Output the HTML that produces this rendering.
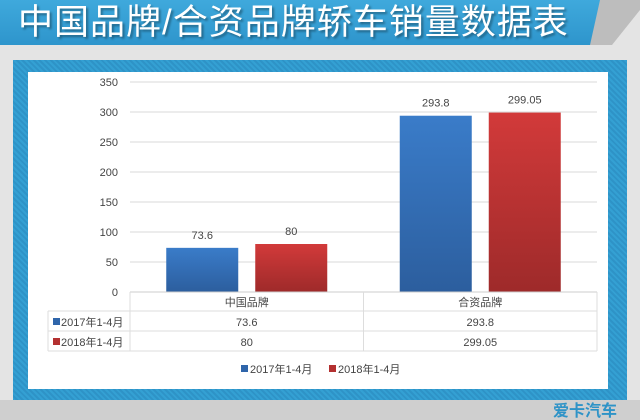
<!DOCTYPE html>
<html><head><meta charset="utf-8"><style>
body{margin:0;width:640px;height:420px;overflow:hidden;background:#e4e4e4;font-family:"Liberation Sans","Noto Sans CJK SC",sans-serif;position:relative}
.banner{position:absolute;left:0;top:0;width:600px;height:45px;background:linear-gradient(#3fa9dc,#2e95cc);}
.title{position:absolute;left:18px;top:-6px;font-size:35px;color:#fff;white-space:nowrap;text-shadow:2px 2px 2px rgba(0,0,0,.35);letter-spacing:1px}
.panel{position:absolute;left:13px;top:60px;width:614px;height:340px;background:repeating-linear-gradient(45deg,#34a0d3 0 2px,#2e93c7 2px 4px)}
.inner{position:absolute;left:28px;top:72px;width:580px;height:317px;background:#fff}
.bottom{position:absolute;left:0;top:400px;width:640px;height:20px;background:#cfcfcf}
svg{position:absolute;left:0;top:0}
text{font-family:"Liberation Sans","Noto Sans CJK SC",sans-serif;fill:#444}
</style></head><body>
<div class="banner"></div>
<div class="title">中国品牌/合资品牌轿车销量数据表</div>
<div class="panel"></div>
<div class="inner"></div>
<div class="bottom"></div>
<svg width="640" height="420" id="chart">
<polygon points="600,0 640,0 640,10 612,45 590,45" fill="#bdbdbd"/>
</svg>
<script>
const categories=["中国品牌","合资品牌"];
const series2017=[73.6,293.8];
const series2018=[80,299.05];
const labels2017=["73.6","293.8"];
const labels2018=["80","299.05"];
const ticks=[0,50,100,150,200,250,300,350];
const seriesNames=["2017年1-4月","2018年1-4月"];
const svg=document.getElementById('chart');const NS='http://www.w3.org/2000/svg';
const x0=130,x1=597,y0=292,yTop=82,maxV=350;
const y=v=>y0-(v/maxV)*(y0-yTop);
const cw=(x1-x0)/categories.length;
function el(t,a,txt){const e=document.createElementNS(NS,t);for(const k in a)e.setAttribute(k,a[k]);if(txt!==undefined)e.textContent=txt;svg.appendChild(e);return e;}
const defs=el('defs',{});
defs.innerHTML='<linearGradient id="gb" x1="0" y1="0" x2="0" y2="1"><stop offset="0" stop-color="#3a7cc9"/><stop offset="1" stop-color="#2c5e9e"/></linearGradient><linearGradient id="gr" x1="0" y1="0" x2="0" y2="1"><stop offset="0" stop-color="#d23a3a"/><stop offset="1" stop-color="#9e2a2a"/></linearGradient>';
ticks.forEach(t=>{
 const g=el('line',{x1:x0,x2:x1,y1:y(t),y2:y(t),stroke:'#d9d9d9'});
 
 const l=el('text',{x:118,y:y(t)+4,'font-size':11,'text-anchor':'end'},String(t));
 
});
const bw=72;
categories.forEach((c,i)=>{
 const cx=x0+cw*i+cw/2;
 [[series2017,labels2017,'url(#gb)',-1],[series2018,labels2018,'url(#gr)',1]].forEach(([s,lb,f,d],j)=>{
  const bx=d<0?cx-bw-8.5:cx+8.5;
  const r=el('rect',{x:bx,y:y(s[i]),width:bw,height:y0-y(s[i]),fill:f});
  
  const t=el('text',{x:bx+bw/2,y:y(s[i])-9,'font-size':11,'text-anchor':'middle'},lb[i]);
  
 });
});
const tl=48;
el('line',{x1:x0,x2:x1,y1:292,y2:292,stroke:'#ccc'});
[311,331,351].forEach(v=>el('line',{x1:tl,x2:x1,y1:v,y2:v,stroke:'#ddd'}));
el('line',{x1:tl,x2:tl,y1:311,y2:351,stroke:'#ddd'});
[x0,x0+cw,x1].forEach(v=>el('line',{x1:v,x2:v,y1:292,y2:351,stroke:'#ddd'}));
categories.forEach((c,i)=>{
 const cx=x0+cw*i+cw/2;
 const h=el('text',{x:cx,y:306,'font-size':11,'text-anchor':'middle'},c);
 
 el('text',{x:cx,y:326,'font-size':11,'text-anchor':'middle'},labels2017[i]);
 el('text',{x:cx,y:346,'font-size':11,'text-anchor':'middle'},labels2018[i]);
});
['#2f65aa','#b33030'].forEach((col,j)=>{
 el('rect',{x:53,y:318+j*20,width:7,height:7,fill:col});
 el('text',{x:61,y:326+j*20,'font-size':11},seriesNames[j]);
});
['#2f65aa','#b33030'].forEach((col,j)=>{
 const lx=241+j*88;
 const r=el('rect',{x:lx,y:365,width:7,height:7,fill:col});
 
 const t=el('text',{x:lx+9,y:373,'font-size':11},seriesNames[j]);
 
});
el('text',{x:585,y:416,'font-size':16,'font-weight':'bold','text-anchor':'middle',style:'fill:#2e93c7'},'爱卡汽车');
</script>
</body></html>
